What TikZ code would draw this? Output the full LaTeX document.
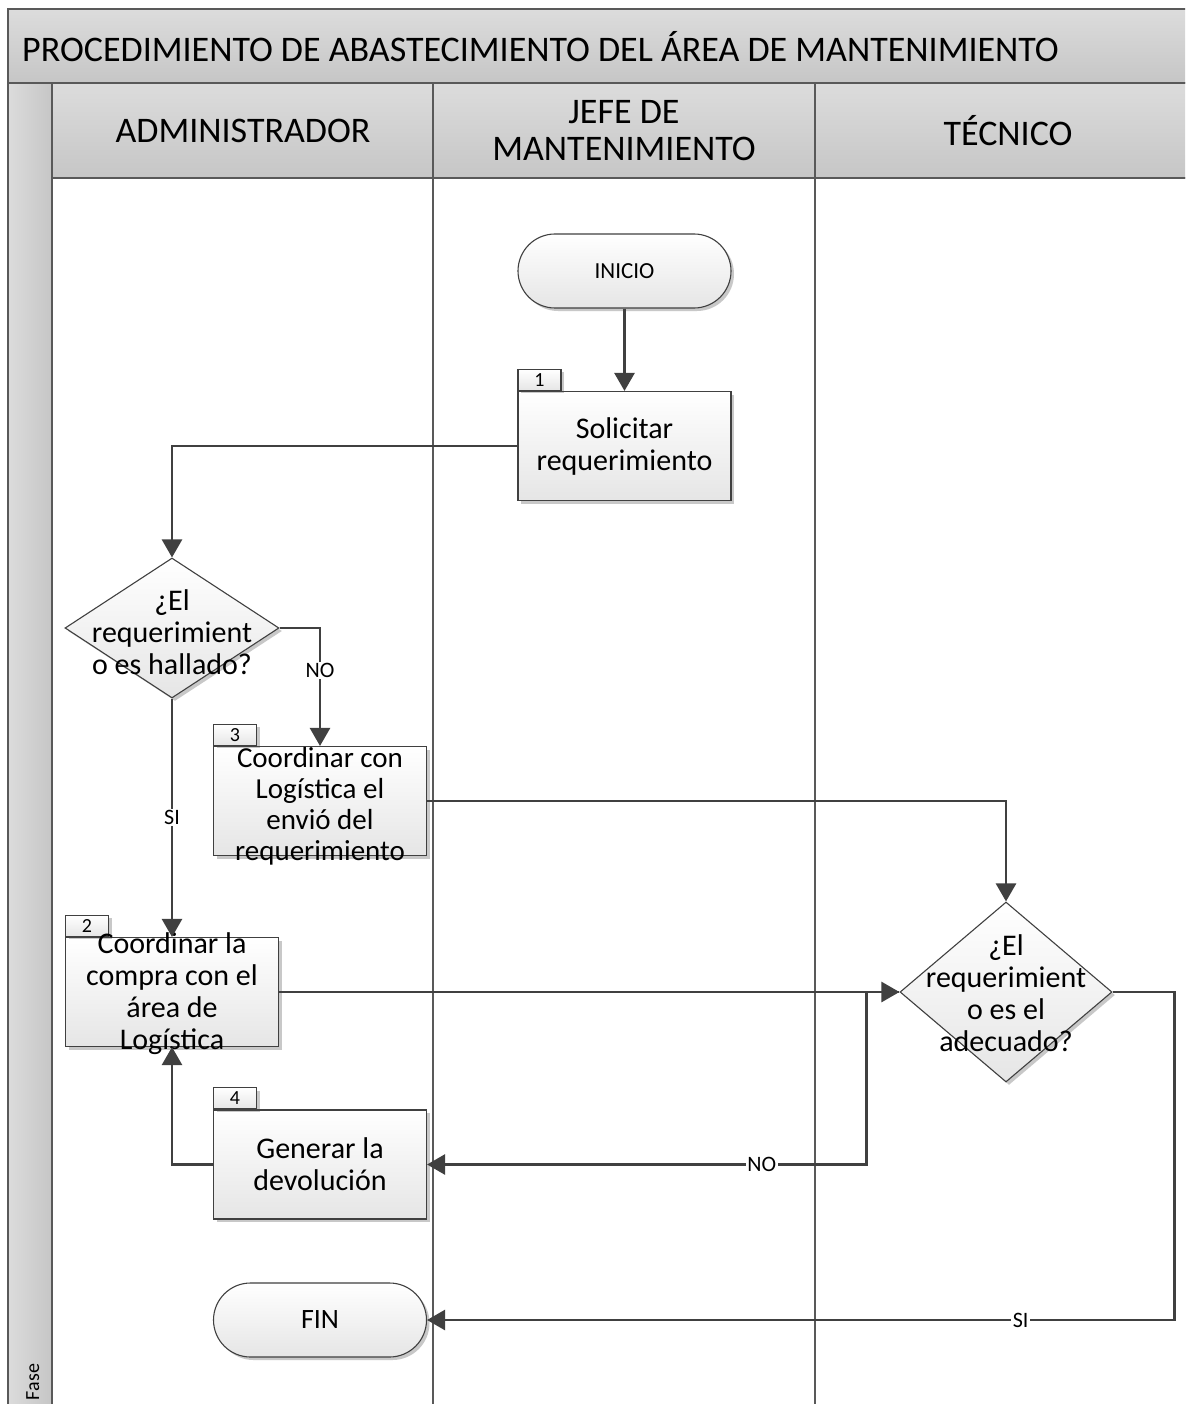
\documentclass[tikz,border=0pt]{standalone}
\usepackage{fontspec}
\setmainfont{Carlito}
\usetikzlibrary{shadows,arrows.meta,shapes.geometric}

\definecolor{lineg}{HTML}{404040}
\definecolor{frameg}{HTML}{595959}
\definecolor{hdrtop}{HTML}{DCDCDC}
\definecolor{hdrbot}{HTML}{C6C6C6}

\begin{document}
\begin{tikzpicture}[x=1pt,y=-1pt,
  frame/.style={draw=frameg,line width=1.8pt},
  hdr/.style={frame,top color=hdrtop,bottom color=hdrbot},
  shad/.style={drop shadow={shadow xshift=3pt,shadow yshift=-3pt,opacity=0.3,fill=black!70}},
  shapebase/.style={draw=lineg,line width=1.1pt,top color=white,bottom color=black!10,shad,inner sep=0pt},
  stepbox/.style={shapebase,rectangle,minimum width=213pt,minimum height=109pt},
  tabbox/.style={shapebase,rectangle,minimum width=43pt,minimum height=21pt,anchor=south west,
    font=\fontsize{20}{21}\selectfont},
  term/.style={shapebase,rectangle,rounded corners=37pt,minimum width=213pt,minimum height=74pt},
  decision/.style={shapebase,diamond},
  boxtext/.style={align=center,inner sep=0pt,font=\fontsize{30}{32}\selectfont},
  hdrtext/.style={align=center,inner sep=0pt,font=\fontsize{36}{37}\selectfont},
  conn/.style={draw=lineg,line width=2.6pt,-{Triangle[length=18pt,width=20pt]}},
  lbl/.style={fill=white,inner sep=1.5pt,font=\fontsize{22}{23}\selectfont,text=black}
]
\useasboundingbox (0,0) rectangle (1185,1404);
\clip (0,0) rectangle (1185,1404);

% pool frame, title band and lane headers
\fill[white] (0,0) rectangle (1185,1404);
\path[hdr] (8,9) rectangle (1200,83);
\path[frame,left color=hdrtop,right color=hdrbot] (8,83) rectangle (52,1420);
\path[hdr] (52,83) rectangle (1200,178);
\draw[frame] (52,178) -- (1200,178);
\draw[frame] (433,83) -- (433,1420);
\draw[frame] (815,83) -- (815,1420);

\node[anchor=west,inner sep=0pt,font=\fontsize{36}{37}\selectfont] (title) at (22,47)
  {PROCEDIMIENTO DE ABASTECIMIENTO DEL ÁREA DE MANTENIMIENTO};
\node[hdrtext] (hadm) at (243,131) {ADMINISTRADOR};
\node[hdrtext] (hjefe) at (624,131) {JEFE DE\\MANTENIMIENTO};
\node[hdrtext] (htec) at (1008,131) {TÉCNICO};
\node[rotate=90,anchor=base,inner sep=0pt,font=\fontsize{20}{21}\selectfont] (fase) at (39,1382) {Fase};

% flow shapes
\node[term,font=\fontsize{23}{24}\selectfont] (ini) at (624.5,271) {INICIO};

\node[stepbox] (s1) at (624.5,446) {};
\node[tabbox] (t1) at (s1.north west) {1};
\node[boxtext] (s1t) at (s1) {Solicitar\\requerimiento};

\node[decision,minimum width=214pt,minimum height=140pt] (d1) at (172,628) {};
\node[boxtext] (d1t) at (172,632) {¿El\\requerimient\\o es hallado?};

\node[stepbox] (s3) at (320,801) {};
\node[tabbox] (t3) at (s3.north west) {3};
\node[boxtext,font=\fontsize{29}{31}\selectfont] (s3t) at (320,806) {Coordinar con\\Logística el\\envió del\\requerimiento};

\node[stepbox] (s2) at (172,992) {};
\node[tabbox] (t2) at (s2.north west) {2};
\node[boxtext] (s2t) at (172,994) {Coordinar la\\compra con el\\área de\\Logística};

\node[decision,minimum width=212pt,minimum height=180pt] (d2) at (1006,992) {};
\node[boxtext] (d2t) at (1006,993) {¿El\\requerimient\\o es el\\adecuado?};

\node[stepbox] (s4) at (320,1164.5) {};
\node[tabbox] (t4) at (s4.north west) {4};
\node[boxtext] (s4t) at (s4) {Generar la\\devolución};

\node[term,font=\fontsize{28}{29}\selectfont] (fin) at (320,1320) {FIN};

% connectors
\draw[conn] (ini) -- (s1);
\draw[conn] (s1.west) -| (d1.north);
\draw[conn] (d1.east) -| node[pos=0.68,lbl] {NO} (s3.north);
\draw[conn] (d1.south) -- node[lbl] {SI} (s2.north);
\draw[conn] (s3.east) -| (d2.north);
\draw[conn] (s2.east) -- (d2.west);
\draw[conn] (d2.west) -- ++(-33,0) |- node[pos=0.619,lbl] {NO} (s4.east);
\draw[conn] (d2.east) -- ++(62,0) |- node[pos=0.603,lbl] {SI} (fin.east);
\draw[conn] (s4.west) -| (s2.south);
\end{tikzpicture}
\end{document}
